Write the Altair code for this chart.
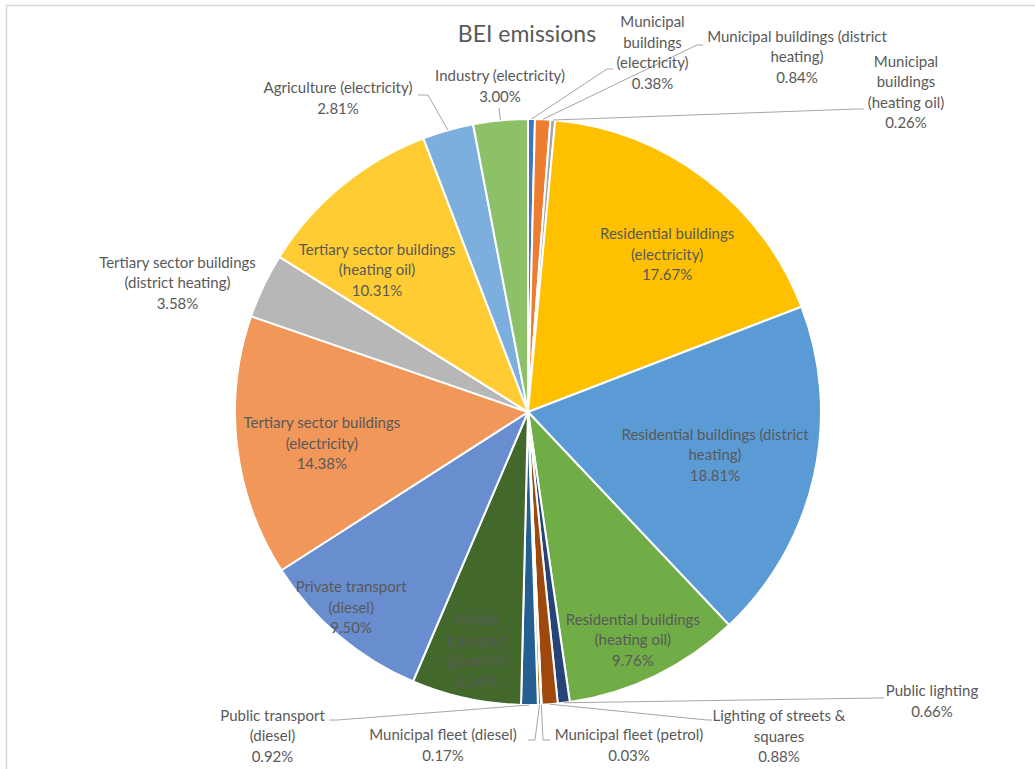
import math

import altair as alt
import pandas as pd

# ---- data -----------------------------------------------------------------
categories = [
    "Municipal buildings (electricity)",
    "Municipal buildings (district heating)",
    "Municipal buildings (heating oil)",
    "Residential buildings (electricity)",
    "Residential buildings (district heating)",
    "Residential buildings (heating oil)",
    "Public lighting",
    "Lighting of streets & squares",
    "Municipal fleet (petrol)",
    "Municipal fleet (diesel)",
    "Public transport (diesel)",
    "Private transport (gasoline)",
    "Private transport (diesel)",
    "Tertiary sector buildings (electricity)",
    "Tertiary sector buildings (district heating)",
    "Tertiary sector buildings (heating oil)",
    "Agriculture (electricity)",
    "Industry (electricity)",
]
shares = [0.38, 0.84, 0.26, 17.67, 18.81, 9.76, 0.66, 0.88, 0.03, 0.17,
          0.92, 6.04, 9.50, 14.38, 3.58, 10.31, 2.81, 3.00]

# how each category name wraps in its data label
label_names = [
    "Municipal\nbuildings\n(electricity)",
    "Municipal buildings (district\nheating)",
    "Municipal\nbuildings\n(heating oil)",
    "Residential buildings\n(electricity)",
    "Residential buildings (district\nheating)",
    "Residential buildings\n(heating oil)",
    "Public lighting",
    "Lighting of streets &\nsquares",
    "Municipal fleet (petrol)",
    "Municipal fleet (diesel)",
    "Public transport\n(diesel)",
    "Private\ntransport\n(gasoline)",
    "Private transport\n(diesel)",
    "Tertiary sector buildings\n(electricity)",
    "Tertiary sector buildings\n(district heating)",
    "Tertiary sector buildings\n(heating oil)",
    "Agriculture (electricity)",
    "Industry (electricity)",
]

# ---- style / layout -------------------------------------------------------
palette = ["#4472C4", "#ED7D31", "#A5A5A5", "#FFC000", "#5B9BD5", "#70AD47",
           "#264478", "#9E480E", "#636363", "#997300", "#255E91", "#43682B",
           "#698ED0", "#F1975A", "#B7B7B7", "#FFCD33", "#7CAFDD", "#8CC168"]

W, H = 1035, 769
CX, CY, R = 528, 412, 293
TEXT = "#595959"
FONT = "Lato"
FONT_SIZE = 15
LINE_H = 20.5

# labels drawn inside their slice: (fraction of radius, angle nudge in degrees)
inside = {3: (0.716, 4.4), 4: (0.655, 0.15), 5: (0.857, 1.1), 11: (0.834, -0.15),
          12: (0.90, 1.9), 13: (0.712, -2.0), 15: (0.707, -7.3)}

# labels drawn outside: label centre, leader elbow, leader end (offsets from pie centre)
outside = {
    0: ((124.5, -359), (79, -343), (85, -343)),
    1: ((269, -355), (169, -367), (175, -367)),
    2: ((378, -319.5), (329, -303), (336, -303)),
    6: ((404, 289.5), (350, 286), (356, 286)),
    7: ((251, 324.5), (179, 308), (184, 308)),
    8: ((101, 333.5), (15, 328), (22, 328)),
    9: ((-85, 333.5), (7, 328), (0, 328)),
    10: ((-255.5, 324), (-190, 308), (-199, 308)),
    14: ((-350.5, -129), None, None),
    16: ((-190, -313.5), (-100, -317), (-110, -317)),
    17: ((-28, -325.5), (-29, -304), (-29, -304)),
}

# ---- derived tables -------------------------------------------------------
total = sum(shares)
slices = pd.DataFrame({"idx": range(len(categories)), "category": categories, "share": shares})

label_rows, leader_rows = [], []
cum = 0.0
for i, (name, v) in enumerate(zip(label_names, shares)):
    mid = (cum + v / 2) / total * 2 * math.pi
    cum += v
    text = f"{name}\n{v:.2f}%"
    # the text block is anchored on its first line, so lift it by half its extra lines
    lift = (text.count("\n")) / 2 * LINE_H
    if i in inside:
        frac, nudge = inside[i]
        a = mid + math.radians(nudge)
        label_rows.append({"lx": CX + frac * R * math.sin(a),
                           "ly": CY - frac * R * math.cos(a) - lift, "text": text})
    else:
        (lx, ly), elbow, end = outside[i]
        label_rows.append({"lx": CX + lx, "ly": CY + ly - lift, "text": text})
        if elbow is not None:
            sx, sy = CX + R * math.sin(mid), CY - R * math.cos(mid)
            ex, ey = CX + elbow[0], CY + elbow[1]
            leader_rows.append({"x": sx, "y": sy, "x2": ex, "y2": ey})
            leader_rows.append({"x": ex, "y": ey, "x2": CX + end[0], "y2": CY + end[1]})

labels = pd.DataFrame(label_rows)
leaders = pd.DataFrame(leader_rows)

px = dict(scale=None, axis=None)

# ---- marks ----------------------------------------------------------------
pie = alt.Chart(slices).mark_arc(outerRadius=R, stroke="white", strokeWidth=2).encode(
    theta=alt.Theta("share:Q", stack=True),
    order=alt.Order("idx:Q"),
    color=alt.Color("category:N", scale=alt.Scale(domain=categories, range=palette), legend=None),
    x=alt.value(CX),
    y=alt.value(CY),
)

leader_lines = alt.Chart(leaders).mark_rule(color="#A6A6A6", strokeWidth=1).encode(
    x=alt.X("x:Q", **px), y=alt.Y("y:Q", **px), x2="x2:Q", y2="y2:Q",
)

label_text = alt.Chart(labels).mark_text(
    font=FONT, fontSize=FONT_SIZE, color=TEXT, align="center", baseline="middle",
    lineBreak="\n", lineHeight=LINE_H,
).encode(x=alt.X("lx:Q", **px), y=alt.Y("ly:Q", **px), text="text:N")

title = alt.Chart(pd.DataFrame({"t": ["BEI emissions"]})).mark_text(
    font=FONT, fontSize=23, color=TEXT, align="center", baseline="middle",
).encode(x=alt.value(527), y=alt.value(35), text="t:N")

# light chart-area frame along the top and left edges
top_edge = alt.Chart(pd.DataFrame({"k": [0]})).mark_rule(color="#D9D9D9", strokeWidth=1.5).encode(
    x=alt.value(6.5), x2=alt.value(W), y=alt.value(5.5),
)
left_edge = alt.Chart(pd.DataFrame({"k": [0]})).mark_rule(color="#D9D9D9", strokeWidth=1.5).encode(
    x=alt.value(6.5), y=alt.value(5.5), y2=alt.value(H),
)

chart = alt.layer(top_edge, left_edge, pie, leader_lines, label_text, title).properties(
    width=W, height=H, padding=0, autosize=alt.AutoSizeParams(type="none"),
    background="white",
).configure_view(stroke=None).resolve_scale(x="independent", y="independent")

chart.save("out.html", embed_options={"renderer": "svg", "actions": False})
